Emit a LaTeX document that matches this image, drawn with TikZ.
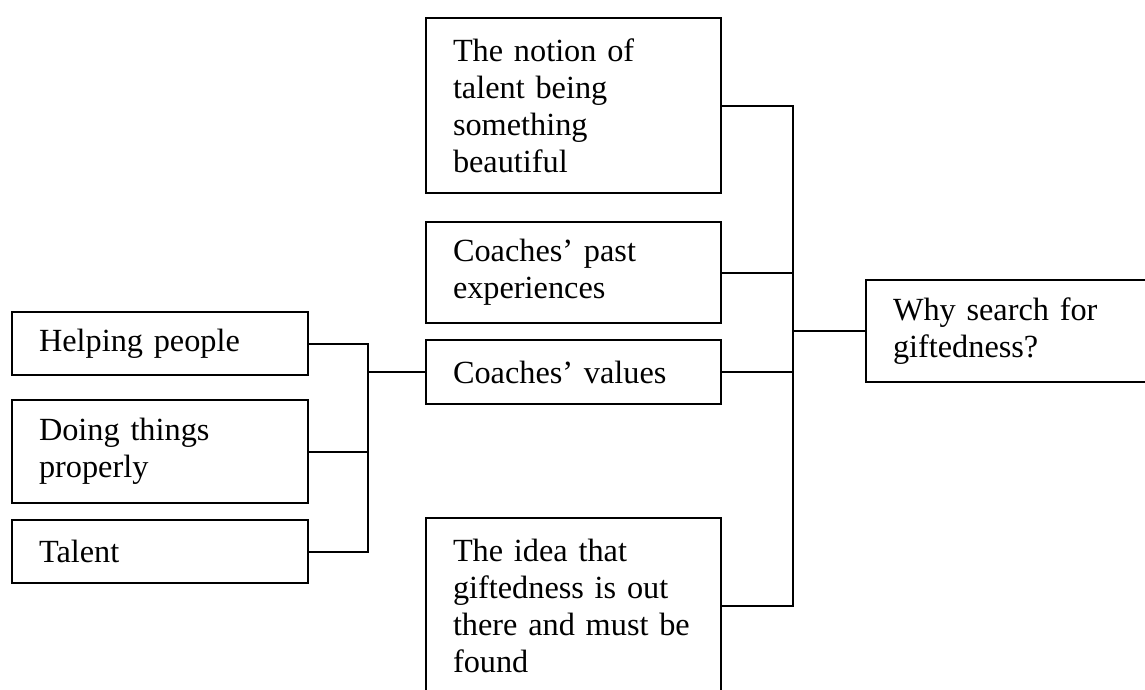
\documentclass[tikz,border=0pt]{standalone}
\usepackage{fontspec}
\setmainfont{Liberation Serif}
\begin{document}
\begin{tikzpicture}[x=1pt,y=-1pt,
  box/.style={draw, line width=2pt, rectangle, inner xsep=27pt, inner ysep=0pt,
    align=left, font=\fontsize{32.3}{37}\selectfont},
  leftbox/.style={box, text width=242pt, minimum width=296pt},
  midbox/.style={box, text width=241pt, minimum width=295pt},
  link/.style={line width=2pt}]
\useasboundingbox (0,0) rectangle (1145,689);
\clip (0,0) rectangle (1145,689);

% left column
\node[leftbox, minimum height=63pt]  (help)    at (160,343.5) {\mbox{Helping people}};
\node[leftbox, minimum height=103pt] (doing)   at (160,451.5) {\mbox{Doing things}\\\mbox{properly}};
\node[leftbox, minimum height=63pt]  (talent)  at (160,551.5) {Talent};

% middle column
\node[midbox, minimum height=175pt] (notion) at (573.5,105.5)
  {\mbox{The notion of}\\\mbox{talent being}\\\mbox{something}\\\mbox{beautiful}};
\node[midbox, minimum height=101pt] (past)   at (573.5,272.5)
  {\mbox{Coaches' past}\\\mbox{experiences}};
\node[midbox, minimum height=64pt]  (values) at (573.5,372)
  {\mbox{Coaches' values}};
\node[midbox, minimum height=176pt] (idea)   at (573.5,606)
  {\mbox{The idea that}\\\mbox{giftedness is out}\\\mbox{there and must be}\\\mbox{found}};

% right box
\node[box, text width=230pt, minimum width=284pt, minimum height=102pt] (why) at (1008,331)
  {\mbox{Why search for}\\\mbox{giftedness?}};

% junctions
\coordinate (jl) at (368,372);
\coordinate (jr) at (793,331);

\draw[link] (help.east) -| (jl);
\draw[link] (doing.east) -| (jl);
\draw[link] (talent.east) -| (jl);
\draw[link] (jl) -- (values.west);

\draw[link] (notion.east) -| (jr);
\draw[link] (past.east) -| (jr);
\draw[link] (values.east) -| (jr);
\draw[link] (idea.east) -| (jr);
\draw[link] (jr) -- (why.west);
\end{tikzpicture}
\end{document}
